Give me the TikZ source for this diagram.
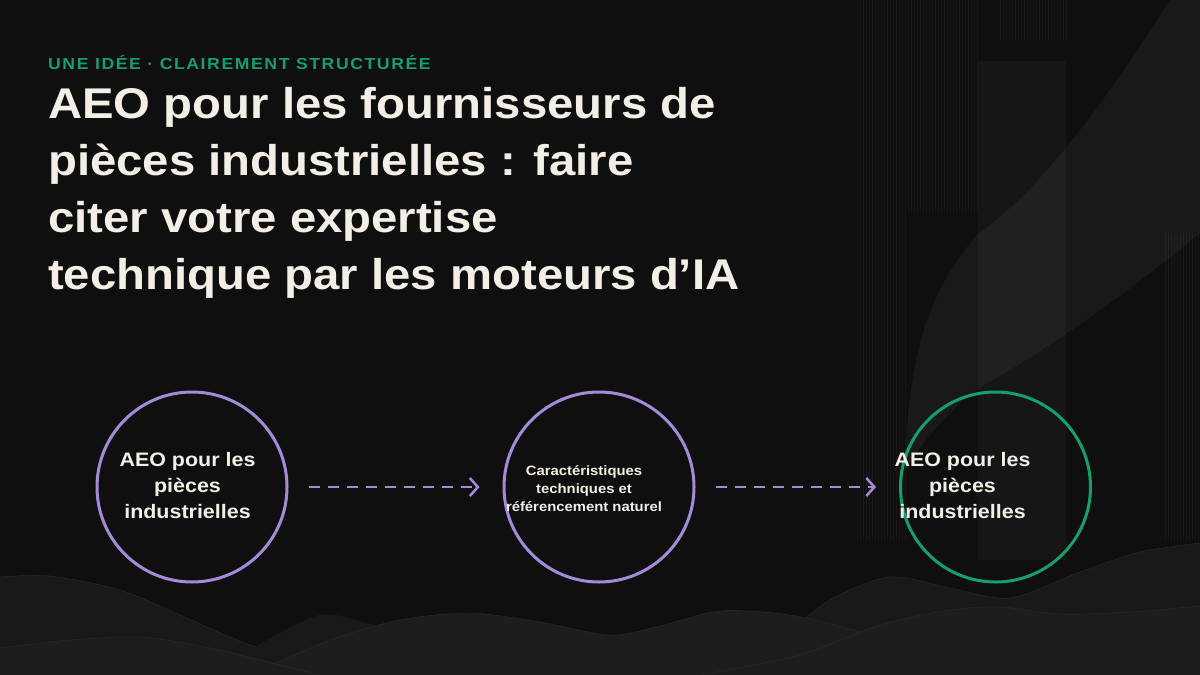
\documentclass[tikz,border=0pt]{standalone}
\usepackage{fontspec}
\setmainfont[FakeStretch=1.1]{Liberation Sans}
\usetikzlibrary{arrows.meta,positioning}
\definecolor{bgdark}{HTML}{0F0F0F}
\definecolor{cream}{HTML}{F3EFE7}
\definecolor{lavender}{HTML}{A38BD9}
\definecolor{jade}{HTML}{159F6B}
\definecolor{hill}{HTML}{191919}
\definecolor{hillfront}{HTML}{1D1D1D}
\definecolor{hilledge}{HTML}{2C2C2C}

\begin{document}
\begin{tikzpicture}[x=1pt,y=-1pt,
    ring/.style={circle,draw=lavender,line width=3pt,minimum size=190pt,inner sep=0pt},
    ringtext/.style={align=center,text=cream,font=\bfseries\fontsize{19.5}{26}\selectfont},
    flow/.style={draw=lavender,line width=2.5pt,dash pattern=on 11pt off 8pt,
      -{Straight Barb[length=8pt,width=18pt]},shorten <=20pt,shorten >=23pt},
    stripe/.style={white,opacity=0.035,line width=0.6pt}]
  \useasboundingbox (0,0) rectangle (1200,675);
  \fill[bgdark] (0,0) rectangle (1200,675);

  % background texture
  \foreach \x in {857,860,...,905} \draw[stripe] (\x,0) -- (\x,540);
  \foreach \x in {908,911,...,977} \draw[stripe] (\x,0) -- (\x,213);
  \foreach \x in {1000,1003,...,1066} \draw[stripe] (\x,0) -- (\x,40);
  \foreach \x in {1165,1168,...,1199} \draw[stripe] (\x,233) -- (\x,540);
  \fill[white,opacity=0.03] (978,61) rectangle (1066,560);
  \fill[white,opacity=0.045] (1170,0) .. controls (1100,110) and (1040,190) .. (977,235)
    .. controls (930,290) and (908,350) .. (905,470)
    .. controls (930,430) and (960,400) .. (987,383)
    .. controls (1030,360) and (1120,300) .. (1200,233) -- (1200,0) -- cycle;

  % hills
  \fill[hill] plot[smooth] coordinates {(780,640) (830,600) (890,577) (950,588) (1010,598) (1080,572) (1140,552) (1200,543)} -- (1200,675) -- (780,675) -- cycle;
  \draw[hilledge] plot[smooth] coordinates {(780,640) (830,600) (890,577) (950,588) (1010,598) (1080,572) (1140,552) (1200,543)};
  \fill[hill] plot[smooth] coordinates {(0,577) (50,576) (120,590) (180,615) (230,637) (290,660) (330,675)} -- (0,675) -- cycle;
  \draw[hilledge] plot[smooth] coordinates {(0,577) (50,576) (120,590) (180,615) (230,637) (290,660) (330,675)};
  \fill[hill] plot[smooth] coordinates {(250,650) (320,615) (380,627) (420,640)} -- (420,675) -- (250,675) -- cycle;
  \fill[hillfront] plot[smooth] coordinates {(250,675) (330,640) (400,620) (470,613) (540,622) (610,635) (660,626) (720,611) (790,615) (860,632) (940,660) (980,675)} -- cycle;
  \draw[hilledge] plot[smooth] coordinates {(250,675) (330,640) (400,620) (470,613) (540,622) (610,635) (660,626) (720,611) (790,615) (860,632) (940,660) (980,675)};
  \fill[hillfront] plot[smooth] coordinates {(0,648) (70,640) (140,637) (210,648) (280,665) (320,675)} -- (0,675) -- cycle;
  \draw[hilledge] plot[smooth] coordinates {(0,648) (70,640) (140,637) (210,648) (280,665) (320,675)};
  \fill[hillfront] plot[smooth] coordinates {(700,675) (800,655) (880,625) (950,610) (1000,607) (1060,614) (1130,612) (1200,606)} -- (1200,675) -- cycle;
  \draw[hilledge] plot[smooth] coordinates {(700,675) (800,655) (880,625) (950,610) (1000,607) (1060,614) (1130,612) (1200,606)};

  % heading
  \node[anchor=base west,inner sep=0pt,text=jade,font=\bfseries\fontsize{16}{19}\selectfont\addfontfeature{LetterSpace=10}] (kicker) at (48,69.5) {UNE IDÉE · CLAIREMENT STRUCTURÉE};
  \node[anchor=base west,inner sep=0pt,align=left,text=cream,font=\bfseries\fontsize{43}{57}\selectfont] (title) at (48,289) {AEO pour les fournisseurs de\\pièces industrielles : faire\\citer votre expertise\\technique par les moteurs d’IA};

  % flow
  \node[ring] (aeo) at (192,487) {};
  \node[ring] (carac) at (599,487) {};
  \node[ring,draw=jade] (cite) at (995.5,487) {};
  \node[ringtext] (aeotext) at (187.5,486) {AEO pour les\\pièces\\industrielles};
  \node[ringtext,font=\bfseries\fontsize{13.5}{18}\selectfont] (caractext) at (584,489) {Caractéristiques\\techniques et\\référencement naturel};
  \node[ringtext] (citetext) at (962.5,485.5) {AEO pour les\\pièces\\industrielles};
  \draw[flow] (aeo) -- (carac);
  \draw[flow] (carac) -- (cite);
\end{tikzpicture}
\end{document}
